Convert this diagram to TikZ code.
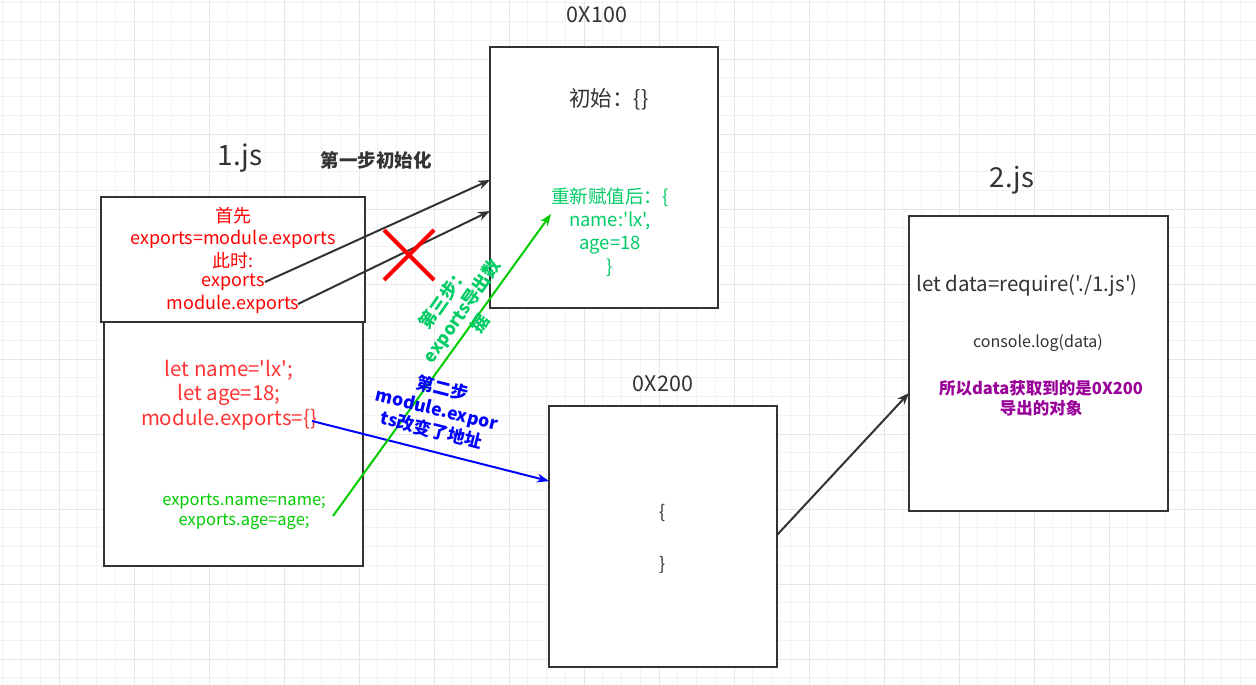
\documentclass[tikz,border=0pt]{standalone}
\usepackage{fontspec}
\setmainfont{Noto Sans CJK SC}[Ligatures=TeXOff]
\usetikzlibrary{arrows.meta}
\definecolor{dk}{HTML}{333333}
\definecolor{gmin}{HTML}{F2F2F2}
\definecolor{gmaj}{HTML}{E6E6E6}
\definecolor{rA}{HTML}{FF0000}
\definecolor{rB}{HTML}{FF3333}
\definecolor{gB}{HTML}{00CC00}
\definecolor{gC}{HTML}{00CC66}
\definecolor{bl}{HTML}{0000FF}
\definecolor{pu}{HTML}{990099}
\tikzset{
  box/.style={draw=dk, line width=2.5pt, fill=white, inner sep=0pt},
  lbl/.style={inner sep=0pt, align=center},
  conn/.style={line width=2pt, -{Stealth[length=12pt,width=9pt]}},
  fs/.style 2 args={font=\fontsize{#1}{#2}\selectfont},
  bfs/.style 2 args={font=\bfseries\fontsize{#1}{#2}\selectfont},
}
\begin{document}
\begin{tikzpicture}[x=1pt,y=-1pt]
\useasboundingbox (0,0) rectangle (1256,685);
\fill[white] (0,0) rectangle (1256,685);
% grid
\foreach \x in {2.75,21.5,...,1256} \draw[gmin, line width=0.8pt] (\x,0) -- (\x,685);
\foreach \y in {2.75,21.5,...,685} \draw[gmin, line width=0.8pt] (0,\y) -- (1256,\y);
\foreach \x in {59,134,...,1256} \draw[gmaj, line width=0.9pt] (\x,0) -- (\x,685);
\foreach \y in {59,134,...,685} \draw[gmaj, line width=0.9pt] (0,\y) -- (1256,\y);

% boxes
\node[box, minimum width=264pt, minimum height=125pt] (boxA) at (233,259.5) {};
\node[box, minimum width=259pt, minimum height=244pt] (boxB) at (233.5,444) {};
\node[box, minimum width=228pt, minimum height=261pt] (m100) at (604,177.5) {};
\node[box, minimum width=228pt, minimum height=261pt] (m200) at (663,536.5) {};
\node[box, minimum width=259pt, minimum height=295pt] (js2) at (1038.5,363.5) {};

% titles
\node[lbl, fs={21.5}{24}, text=dk] (t100) at (597,15) {0X100};
\node[lbl, fs={28}{32}, text=dk] (t1js) at (240,158) {1.js};
\node[lbl, fs={27.5}{32}, text=dk] (t2js) at (1012,180) {2.js};
\node[lbl, fs={21.5}{24}, text=dk] (t200) at (663,384) {0X200};
\node[lbl, bfs={18.5}{22}, text=dk] (step1) at (376,160) {第一步初始化};

% box A text
\node[lbl, fs={18}{20}, text=rA] (a1) at (233,216) {首先};
\node[lbl, fs={18}{20}, text=rA] (a2) at (233,239) {exports=module.exports};
\node[lbl, fs={18}{20}, text=rA] (a3) at (233,261) {此时:};
\node[lbl, fs={18}{20}, text=rA] (a4) at (233,282.5) {exports};
\node[lbl, fs={18}{20}, text=rA] (a5) at (233,304.5) {module.exports};

% box B text
\node[lbl, fs={20.5}{25}, text=rB] (b1) at (229,370) {let name='lx';};
\node[lbl, fs={20.5}{25}, text=rB] (b2) at (229,395) {let age=18;};
\node[lbl, fs={20.5}{25}, text=rB] (b3) at (229,420) {module.exports=\{\}};
\node[lbl, fs={16.5}{20}, text=gB] (b4) at (244,502) {exports.name=name;};
\node[lbl, fs={16.5}{20}, text=gB] (b5) at (244,522) {exports.age=age;};

% 0X100 text
\node[lbl, fs={21.5}{24}, text=dk] (c1) at (609,99) {初始：\{\}};
\node[lbl, fs={18.5}{23.3}, text=gC] (c2) at (610,232) {重新赋值后：\{\\name:'lx',\\age=18\\\}};

% 0X200 text
\node[lbl, fs={18}{20}, text=dk] (d1) at (663,513) {\{};
\node[lbl, fs={18}{20}, text=dk] (d2) at (663,565) {\}};

% 2.js text
\node[lbl, fs={20.5}{24}, text=dk] (e1) at (1027,286) {let data=require('./1.js')};
\node[lbl, fs={16}{18}, text=dk] (e2) at (1038,343) {console.log(data)};
\node[lbl, bfs={16.5}{20}, text=pu] (e3) at (1041,398) {所以data获取到的是0X200\\导出的对象};

% connectors
\coordinate (p1) at (265,282);
\coordinate (p2) at (298,304);
\coordinate (q1) at (490,180);
\coordinate (q2) at (490,211);
\draw[conn, dk] (p1) -- (q1);
\draw[conn, dk] (p2) -- (q2);

\coordinate (bs) at (312,421);
\coordinate (be) at (549,481);
\draw[conn, bl] (bs) -- (be);

\coordinate (gs) at (333,516);
\coordinate (ge) at (551,214);
\draw[conn, gB] (gs) -- (ge);

\coordinate (fs0) at (777,535);
\coordinate (fe) at (909,393);
\draw[conn, dk] (fs0) -- (fe);

% red cross
\coordinate (x1) at (384,230);
\coordinate (x2) at (434,280);
\coordinate (x3) at (434,230);
\coordinate (x4) at (384,280);
\draw[rA, line width=4pt] (x1) -- (x2);
\draw[rA, line width=4pt] (x3) -- (x4);

% rotated labels
\node[lbl, bfs={17.5}{22.5}, text=gC, rotate=55] (g3) at (462,311) {第三步：\\exports导出数\\据};
\node[lbl, bfs={17.5}{21.5}, text=bl, rotate=-14] (b2s) at (437,409) {第二步\\module.expor\\ts改变了地址};
\end{tikzpicture}
\end{document}
